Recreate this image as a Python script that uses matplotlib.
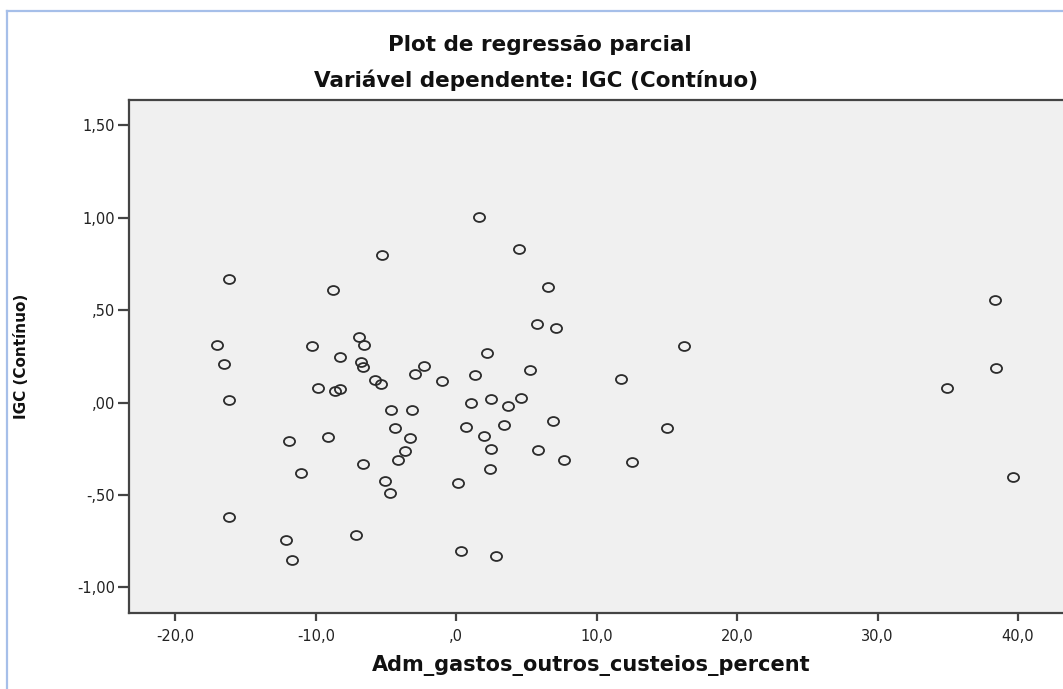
import matplotlib
matplotlib.use("Agg")
import matplotlib.pyplot as plt
from matplotlib.path import Path
from matplotlib.transforms import Affine2D
from matplotlib.lines import Line2D

# ---- data ----
x_vals = [-17.03, -16.55, -16.20, -16.15, -16.20, -11.94, -12.09, -11.71, -11.02, -10.25,
          -9.81, -9.15, -8.75, -8.63, -8.28, -8.25, -6.90, -6.57, -6.76, -6.63,
          -6.67, -7.12, -5.80, -5.35, -5.28, -4.66, -4.39, -5.09, -4.73, -4.14,
          -3.68, -3.28, -3.16, -2.97, -2.33, -0.98, 0.16, 0.31, 0.71, 1.02,
          1.37, 1.63, 2.16, 1.99, 2.46, 2.41, 2.46, 2.84, 3.41, 3.68,
          4.46, 4.60, 5.26, 5.72, 5.79, 6.55, 6.90, 7.09, 7.66, 11.70,
          12.49, 14.98, 16.19, 34.94, 38.36, 38.43, 39.67]
y_vals = [0.312, 0.209, 0.669, 0.015, -0.618, -0.209, -0.743, -0.853, -0.380, 0.307,
          0.078, -0.184, 0.610, 0.064, 0.075, 0.246, 0.354, 0.314, 0.222, 0.193,
          -0.333, -0.717, 0.123, 0.101, 0.798, -0.040, -0.137, -0.425, -0.490, -0.308,
          -0.260, -0.189, -0.038, 0.155, 0.197, 0.117, -0.435, -0.802, -0.133, -0.003,
          0.152, 1.003, 0.271, -0.182, -0.252, -0.357, 0.020, -0.828, -0.122, -0.018,
          0.832, 0.024, 0.179, 0.424, -0.254, 0.626, -0.097, 0.403, -0.312, 0.128,
          -0.323, -0.135, 0.308, 0.078, 0.554, 0.186, -0.402]

x_ticks = [-20, -10, 0, 10, 20, 30, 40]
x_tick_labels = ["-20,0", "-10,0", ",0", "10,0", "20,0", "30,0", "40,0"]
y_ticks = [-1.0, -0.5, 0.0, 0.5, 1.0, 1.5]
y_tick_labels = ["-1,00", "-,50", ",00", ",50", "1,00", "1,50"]

title = "Plot de regressão parcial"
subtitle = "Variável dependente: IGC (Contínuo)"
x_label = "Adm_gastos_outros_custeios_percent"
y_label = "IGC (Contínuo)"

# ---- figure ----
plt.rcParams['font.family'] = ['DejaVu Sans']
plt.rcParams['axes.unicode_minus'] = False

W, H = 1063, 689
fig = plt.figure(figsize=(W / 100, H / 100), dpi=100, facecolor='white')

ax_left, ax_right, ax_top, ax_bottom = 129, 1063, 100, 613.3
ax = fig.add_axes([ax_left / W, 1 - ax_bottom / H, (ax_right - ax_left) / W, (ax_bottom - ax_top) / H])
ax.set_facecolor('#f0f0f0')

ell = Path.unit_circle().transformed(Affine2D().scale(1.0, 0.8))
ax.plot(x_vals, y_vals, linestyle='none', marker=ell, markersize=8.0,
        mfc='none', mec='#2b2b2b', mew=1.3, clip_on=False)

ax.set_xlim(-23.3, 43.2)
ax.set_ylim(-1.14, 1.638)
ax.set_xticks(x_ticks)
ax.set_xticklabels(x_tick_labels)
ax.set_yticks(y_ticks)
ax.set_yticklabels(y_tick_labels)

for side in ['left', 'bottom', 'top']:
    ax.spines[side].set_color('#444444')
    ax.spines[side].set_linewidth(1.6)
ax.spines['right'].set_visible(False)

ax.tick_params(axis='x', direction='out', length=6, width=1.6, color='#444444',
               labelsize=10.5, labelcolor='#222222', pad=5)
ax.tick_params(axis='y', direction='out', length=8, width=1.6, color='#444444',
               labelsize=10.5, labelcolor='#222222', pad=2)

# titles and labels
fig.text(540 / W, 1 - 51 / H, title, ha='center', va='baseline',
         fontsize=15.5, fontweight='bold', color='#111111')
fig.text(536 / W, 1 - 87 / H, subtitle, ha='center', va='baseline',
         fontsize=15.5, fontweight='bold', color='#111111')
fig.text(591.5 / W, 1 - 671 / H, x_label, ha='center', va='baseline',
         fontsize=15, fontweight='bold', color='#111111')
fig.text(22 / W, 1 - 356 / H, y_label, ha='center', va='center', rotation=90,
         fontsize=11, fontweight='bold', color='#111111')

# light blue frame (top and left)
fig.add_artist(Line2D([7 / W, 1], [1 - 11 / H, 1 - 11 / H], transform=fig.transFigure,
                      color='#a6bfe9', lw=1.6))
fig.add_artist(Line2D([7 / W, 7 / W], [0, 1 - 11 / H], transform=fig.transFigure,
                      color='#a6bfe9', lw=1.6))

fig.savefig('out.png', dpi=100, facecolor='white')
